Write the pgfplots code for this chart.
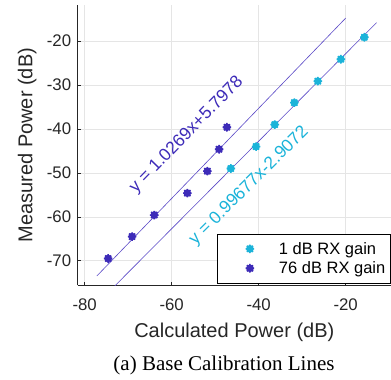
\documentclass[border=0pt]{standalone}
\usepackage{pgfplots}
\pgfplotsset{compat=1.18}
\usepackage{fontspec}
\setmainfont{Liberation Sans}
\newfontfamily\capfont{Liberation Serif}
\definecolor{pur}{HTML}{3D2BB8}
\definecolor{cya}{HTML}{1BB3D9}
\definecolor{fitl}{HTML}{5A48C6}
\definecolor{axc}{HTML}{262626}
\pgfdeclareplotmark{burst}{%
  \pgfpathcircle{\pgfpointorigin}{0.9\pgfplotmarksize}\pgfusepathqfill
  \pgfsetlinewidth{1.6pt}%
  \pgfpathmoveto{\pgfqpoint{0pt}{\pgfplotmarksize}}\pgfpathlineto{\pgfqpoint{0pt}{-\pgfplotmarksize}}%
  \pgfpathmoveto{\pgfqpoint{\pgfplotmarksize}{0pt}}\pgfpathlineto{\pgfqpoint{-\pgfplotmarksize}{0pt}}%
  \pgfpathmoveto{\pgfqpoint{0.707\pgfplotmarksize}{0.707\pgfplotmarksize}}\pgfpathlineto{\pgfqpoint{-0.707\pgfplotmarksize}{-0.707\pgfplotmarksize}}%
  \pgfpathmoveto{\pgfqpoint{0.707\pgfplotmarksize}{-0.707\pgfplotmarksize}}\pgfpathlineto{\pgfqpoint{-0.707\pgfplotmarksize}{0.707\pgfplotmarksize}}%
  \pgfusepathqstroke
}
\begin{document}
\begin{tikzpicture}
\begin{axis}[name=ax,
  x=4.35pt, y=4.39pt,
  xmin=-81.6, xmax=-9.6, ymin=-75.6, ymax=-11.75,
  axis x line*=bottom, axis y line*=left,
  axis line style={color=axc, line width=0.7pt},
  xtick={-80,-60,-40,-20}, xticklabels={-80,-60,-40,-20},
  ytick={-70,-60,-50,-40,-30,-20}, yticklabels={-70,-60,-50,-40,-30,-20},
  tick align=inside, major tick length=3.5pt,
  tick style={color=axc, line width=0.6pt},
  grid=major, grid style={color=black!10, line width=0.6pt},
  xticklabel style={font=\fontsize{16.8}{19}\selectfont, text=axc, yshift=-10pt},
  yticklabel style={font=\fontsize{16.8}{19}\selectfont, text=axc, xshift=-3pt},
  xlabel={Calculated Power (dB)},
  ylabel={Measured Power (dB)},
  xlabel style={font=\fontsize{20}{23}\selectfont, text=axc, at={([yshift=-52pt]axis description cs:0.5,0)}, anchor=base},
  ylabel style={font=\fontsize{20}{23}\selectfont, text=axc, at={([xshift=-45.4pt]axis description cs:0,0.5)}, anchor=base},
  legend style={at={(axis cs:-49.66,-75.15)}, anchor=south west, draw=black, line width=0.6pt,
    fill=white, font=\fontsize{16.5}{19}\selectfont, inner xsep=3pt, inner ysep=6pt, row sep=2pt},
  legend cell align=left,
  legend image code/.code={\path[draw=none,fill=none] (0pt,-3pt) rectangle (57pt,3pt); \draw[#1] plot coordinates {(30pt,0pt)};},
  clip=true,
]
\addplot[only marks, mark=burst, mark size=4.3pt, color=cya] coordinates {
  (-15.7,-19.1) (-21.1,-24.1) (-26.4,-29.1) (-31.8,-34.0) (-36.3,-39.0) (-40.6,-44.0) (-46.4,-49.0)
};
\addlegendentry{1 dB RX gain}
\addplot[only marks, mark=burst, mark size=4.3pt, color=pur] coordinates {
  (-74.6,-69.5) (-69.1,-64.5) (-64.0,-59.6) (-56.4,-54.6) (-51.8,-49.6) (-49.1,-44.6) (-47.3,-39.6)
};
\addlegendentry{76 dB RX gain}
\addplot[fitl, line width=0.6pt, forget plot] coordinates {(-77.2,-73.479) (-20.0,-14.740)};
\addplot[fitl, line width=0.6pt, forget plot] coordinates {(-73.2,-75.871) (-12.9,-15.766)};
\node[rotate=45.8, text=pur, font=\fontsize{17.5}{20}\selectfont] at (axis cs:-56.55,-41.37) {y = 1.0269x+5.7978};
\node[rotate=44.8, text=cya, font=\fontsize{17.5}{20}\selectfont] at (axis cs:-42.18,-52.94) {y = 0.99677x-2.9072};
\end{axis}
\node[anchor=base, font=\capfont\fontsize{21}{24}\selectfont] at ([xshift=146.3pt, yshift=-85.4pt]ax.south west) {(a) Base Calibration Lines};
\pgfresetboundingbox
\path[use as bounding box] ([xshift=-77.7pt,yshift=-94.7pt]ax.south west) rectangle ([xshift=313.3pt,yshift=285.3pt]ax.south west);
\end{tikzpicture}
\end{document}
